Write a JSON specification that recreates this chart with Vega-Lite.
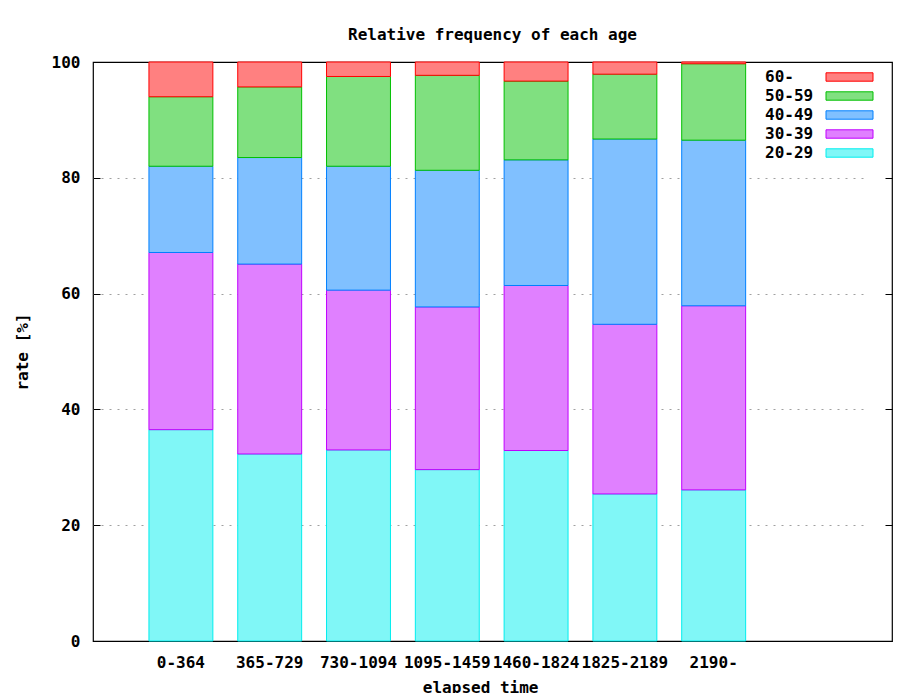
{
  "$schema": "https://vega.github.io/schema/vega-lite/v6.json",
  "width": 799,
  "height": 579,
  "autosize": "none",
  "padding": {"left": 93, "top": 62, "right": 20, "bottom": 52},
  "background": "white",
  "title": {
    "text": "Relative frequency of each age",
    "offset": 11,
    "font": "DejaVu Sans Mono",
    "fontSize": 16,
    "fontWeight": "bold",
    "color": "black"
  },
  "config": {
    "view": {"stroke": "black", "strokeWidth": 1.2},
    "axis": {
      "labelFont": "DejaVu Sans Mono",
      "labelFontSize": 16,
      "labelFontWeight": "bold",
      "labelColor": "black",
      "titleFont": "DejaVu Sans Mono",
      "titleFontSize": 16,
      "titleFontWeight": "bold",
      "titleColor": "black"
    },
    "legend": {
      "labelFont": "DejaVu Sans Mono",
      "labelFontSize": 16,
      "labelFontWeight": "bold",
      "labelColor": "black"
    }
  },
  "data": {
    "values": [
      {"period": "0-364", "age": "20-29", "rate": 36.5},
      {"period": "0-364", "age": "30-39", "rate": 30.6},
      {"period": "0-364", "age": "40-49", "rate": 14.9},
      {"period": "0-364", "age": "50-59", "rate": 12.0},
      {"period": "0-364", "age": "60-", "rate": 6.0},
      {"period": "365-729", "age": "20-29", "rate": 32.3},
      {"period": "365-729", "age": "30-39", "rate": 32.8},
      {"period": "365-729", "age": "40-49", "rate": 18.4},
      {"period": "365-729", "age": "50-59", "rate": 12.2},
      {"period": "365-729", "age": "60-", "rate": 4.3},
      {"period": "730-1094", "age": "20-29", "rate": 33.0},
      {"period": "730-1094", "age": "30-39", "rate": 27.6},
      {"period": "730-1094", "age": "40-49", "rate": 21.4},
      {"period": "730-1094", "age": "50-59", "rate": 15.5},
      {"period": "730-1094", "age": "60-", "rate": 2.5},
      {"period": "1095-1459", "age": "20-29", "rate": 29.6},
      {"period": "1095-1459", "age": "30-39", "rate": 28.1},
      {"period": "1095-1459", "age": "40-49", "rate": 23.6},
      {"period": "1095-1459", "age": "50-59", "rate": 16.4},
      {"period": "1095-1459", "age": "60-", "rate": 2.3},
      {"period": "1460-1824", "age": "20-29", "rate": 32.9},
      {"period": "1460-1824", "age": "30-39", "rate": 28.5},
      {"period": "1460-1824", "age": "40-49", "rate": 21.7},
      {"period": "1460-1824", "age": "50-59", "rate": 13.6},
      {"period": "1460-1824", "age": "60-", "rate": 3.3},
      {"period": "1825-2189", "age": "20-29", "rate": 25.4},
      {"period": "1825-2189", "age": "30-39", "rate": 29.3},
      {"period": "1825-2189", "age": "40-49", "rate": 32.0},
      {"period": "1825-2189", "age": "50-59", "rate": 11.2},
      {"period": "1825-2189", "age": "60-", "rate": 2.1},
      {"period": "2190-", "age": "20-29", "rate": 26.1},
      {"period": "2190-", "age": "30-39", "rate": 31.8},
      {"period": "2190-", "age": "40-49", "rate": 28.6},
      {"period": "2190-", "age": "50-59", "rate": 13.2},
      {"period": "2190-", "age": "60-", "rate": 0.3}
    ]
  },
  "encoding": {
    "x": {
      "field": "period",
      "type": "nominal",
      "sort": ["0-364", "365-729", "730-1094", "1095-1459", "1460-1824", "1825-2189", "2190-"],
      "scale": {"range": [0, 774.3], "paddingInner": 0.28, "paddingOuter": 1, "align": 0.315},
      "axis": {
        "title": "elapsed time",
        "labelAngle": 0,
        "ticks": false,
        "domain": false,
        "labelPadding": 13,
        "titlePadding": 9,
        "labelOverlap": false,
        "labelBound": false,
        "labelLimit": 0
      }
    },
    "fill": {
      "field": "age",
      "type": "nominal",
      "scale": {
        "domain": ["60-", "50-59", "40-49", "30-39", "20-29"],
        "range": ["#ff8080", "#80e080", "#80c0ff", "#e080ff", "#80f7f7"]
      },
      "legend": {
        "title": null,
        "orient": "none",
        "legendX": 647,
        "legendY": 4.5,
        "padding": 0,
        "rowPadding": -0.25,
        "labelOffset": 4,
        "symbolSize": 400,
        "symbolStrokeWidth": 1,
        "symbolOpacity": 1,
        "symbolType": "M7.55,-0.42H12.25V0.42H7.55Z"
      }
    },
    "stroke": {
      "field": "age",
      "type": "nominal",
      "scale": {
        "domain": ["60-", "50-59", "40-49", "30-39", "20-29"],
        "range": ["#ff0000", "#00c000", "#0080ff", "#c000ff", "#00eeee"]
      },
      "legend": {
        "title": null,
        "orient": "none",
        "legendX": 647,
        "legendY": 4.5,
        "padding": 0,
        "rowPadding": -0.25,
        "labelOffset": 4,
        "symbolSize": 400,
        "symbolStrokeWidth": 1,
        "symbolOpacity": 1,
        "symbolType": "M7.55,-0.42H12.25V0.42H7.55Z"
      }
    },
    "order": {"field": "age", "sort": "ascending"}
  },
  "layer": [
    {
      "mark": {"type": "bar", "strokeWidth": 1, "fillOpacity": 1},
      "encoding": {
        "y": {
          "field": "rate",
          "type": "quantitative",
          "stack": "zero",
          "scale": {"domain": [0, 100], "nice": false},
          "axis": {
            "title": "rate [%]",
            "values": [0, 20, 40, 60, 80, 100],
            "tickSize": -7,
            "tickColor": "black",
            "domain": false,
            "labelPadding": 20,
            "titlePadding": 21,
            "grid": true,
            "gridColor": "#a0a0a0",
            "gridDash": [2, 6],
            "gridWidth": 1,
            "gridOpacity": {"condition": {"test": "datum.value == 0 || datum.value == 100", "value": 0}, "value": 1}
          }
        }
      }
    },
    {
      "mark": {"type": "bar", "opacity": 0},
      "encoding": {
        "y": {
          "field": "rate",
          "type": "quantitative",
          "stack": "zero",
          "scale": {"domain": [0, 100], "nice": false},
          "axis": {
            "orient": "right",
            "title": null,
            "values": [0, 20, 40, 60, 80, 100],
            "tickSize": -7,
            "tickColor": "black",
            "labels": false,
            "domain": false,
            "grid": false
          }
        }
      }
    }
  ],
  "resolve": {"axis": {"y": "independent"}}
}
